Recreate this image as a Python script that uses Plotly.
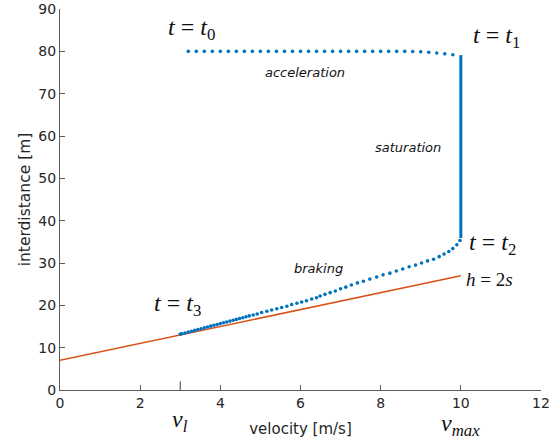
import plotly.graph_objects as go

# ---------------- data ----------------
# acceleration phase (dotted, h ~ 80 m)
acc_v = [3.2, 3.4, 3.6, 3.8, 4.0, 4.2, 4.4, 4.6, 4.8, 5.0, 5.2, 5.4, 5.6, 5.8,
         6.0, 6.2, 6.4, 6.6, 6.8, 7.0, 7.2, 7.4, 7.6, 7.8, 8.0, 8.2, 8.4, 8.6,
         8.8, 9.0, 9.2, 9.4, 9.6, 9.8]
acc_h = [80.0, 80.0, 80.0, 80.0, 80.0, 80.0, 80.0, 80.0, 80.0, 80.0, 80.0, 80.0,
         80.0, 80.0, 80.0, 80.0, 80.0, 80.0, 80.0, 80.0, 80.0, 80.0, 80.0, 80.0,
         80.0, 80.0, 80.0, 80.0, 79.95, 79.9, 79.8, 79.6, 79.4, 79.2]

# saturation phase (v = v_max, dense -> solid)
sat_v = [10.0, 10.0]
sat_h = [79.1, 35.9]

# braking phase
brk_v = [9.98, 9.90, 9.80, 9.70, 9.58, 9.46, 9.32, 9.17, 9.02, 8.87, 8.71, 8.55,
         8.39, 8.23, 8.06, 7.90, 7.73, 7.57, 7.42, 7.27, 7.13, 7.00, 6.87, 6.74,
         6.61, 6.49, 6.40, 6.28, 6.15, 6.03, 5.91, 5.78, 5.66, 5.53, 5.41, 5.28,
         5.16, 5.03, 4.92, 4.82, 4.72, 4.64, 4.56, 4.48, 4.40, 4.32, 4.24, 4.16,
         4.08, 4.00, 3.92, 3.84, 3.76, 3.68, 3.60, 3.52, 3.44, 3.36, 3.28, 3.20,
         3.12, 3.04, 3.00]
brk_h = [35.3, 34.3, 33.4, 32.7, 32.1, 31.5, 30.9, 30.5, 30.0, 29.5, 29.1, 28.6,
         28.1, 27.6, 27.2, 26.7, 26.2, 25.7, 25.3, 24.8, 24.3, 23.9, 23.4, 23.0,
         22.6, 22.2, 21.8, 21.5, 21.1, 20.8, 20.5, 20.2, 19.8, 19.5, 19.2, 18.9,
         18.6, 18.3, 17.95, 17.7, 17.5, 17.28, 17.08, 16.88, 16.68, 16.48, 16.28,
         16.08, 15.88, 15.68, 15.48, 15.28, 15.08, 14.88, 14.68, 14.48, 14.28,
         14.08, 13.88, 13.68, 13.48, 13.28, 13.2]

# constant time headway line h = 2s
cth_v = [0.0, 10.0]
cth_h = [7.0, 27.0]

v_l = 3.0
v_max = 10.0

x_ticks = [0, 2, 4, 6, 8, 10, 12]
y_ticks = [0, 10, 20, 30, 40, 50, 60, 70, 80, 90]

BLUE = "#0072BD"
ORANGE = "#D95319"
AX = "#262626"
LINE = "#5c5c5c"
SANS = "DejaVu Sans"
SERIF = "Liberation Serif"

fig = go.Figure()
fig.add_trace(go.Scatter(x=cth_v, y=cth_h, mode="lines",
                         line=dict(color=ORANGE, width=1.5), hoverinfo="skip"))
fig.add_trace(go.Scatter(x=acc_v, y=acc_h, mode="markers",
                         marker=dict(color=BLUE, size=3.6, line=dict(width=0))))
fig.add_trace(go.Scatter(x=sat_v, y=sat_h, mode="lines",
                         line=dict(color=BLUE, width=3)))
fig.add_trace(go.Scatter(x=brk_v, y=brk_h, mode="markers",
                         marker=dict(color=BLUE, size=3.6, line=dict(width=0))))

# longer tick mark at v_l
fig.add_shape(type="line", xref="x", yref="y", x0=v_l, x1=v_l, y0=-1.3, y1=2.0,
              line=dict(color=LINE, width=1.2))

math_font = dict(family=SERIF, size=24, color="#111111")
notes = [
    (3.27, 85.2, "<i>t</i> = <i>t</i><sub>0</sub>", math_font),
    (10.88, 83.4, "<i>t</i> = <i>t</i><sub>1</sub>", math_font),
    (10.8, 34.6, "<i>t</i> = <i>t</i><sub>2</sub>", math_font),
    (2.92, 20.0, "<i>t</i> = <i>t</i><sub>3</sub>", math_font),
    (10.72, 26.0, "<i>h</i> = 2<i>s</i>", dict(family=SERIF, size=19, color="#111111")),
    (6.10, 75.1, "<i>acceleration</i>", dict(family=SANS, size=13, color="#111111")),
    (8.67, 57.4, "<i>saturation</i>", dict(family=SANS, size=13, color="#111111")),
    (6.45, 28.8, "<i>braking</i>", dict(family=SANS, size=13, color="#111111")),
]
for x, y, t, f in notes:
    fig.add_annotation(x=x, y=y, xref="x", yref="y", text=t, showarrow=False,
                       font=f, xanchor="center", yanchor="middle")

fig.add_annotation(x=v_l, y=-0.082, xref="x", yref="paper",
                   text="<i>v</i><sub><i>l</i></sub>", showarrow=False,
                   font=math_font, xanchor="center", yanchor="middle")
fig.add_annotation(x=v_max, y=-0.092, xref="x", yref="paper",
                   text="<i>v</i><sub><i>max</i></sub>", showarrow=False,
                   font=math_font, xanchor="center", yanchor="middle")

fig.update_layout(
    width=558, height=440,
    margin=dict(l=60, r=17, t=9, b=50),
    paper_bgcolor="white", plot_bgcolor="white",
    showlegend=False,
    font=dict(family=SANS, size=14, color=AX),
    xaxis=dict(range=[0, 12], tickvals=x_ticks, ticktext=[str(v) for v in x_ticks],
               showgrid=False, zeroline=False, showline=True, linecolor=LINE,
               linewidth=1, ticks="inside", ticklen=5, tickcolor=LINE,
               tickfont=dict(family=SANS, size=14, color=AX),
               title=dict(text="velocity [m/s]", standoff=13,
                          font=dict(family=SANS, size=15, color=AX)),
               automargin=False),
    yaxis=dict(range=[0, 90], tickvals=y_ticks, ticktext=[str(v) for v in y_ticks],
               showgrid=False, zeroline=False, showline=True, linecolor=LINE,
               linewidth=1, ticks="inside", ticklen=5, tickcolor=LINE,
               tickfont=dict(family=SANS, size=14, color=AX),
               title=dict(text="interdistance [m]", standoff=3,
                          font=dict(family=SANS, size=15.5, color=AX)),
               automargin=False),
)

fig.write_html("out.html", config={"displayModeBar": False},
               post_script="document.body.style.margin='0';document.body.style.padding='0';")
